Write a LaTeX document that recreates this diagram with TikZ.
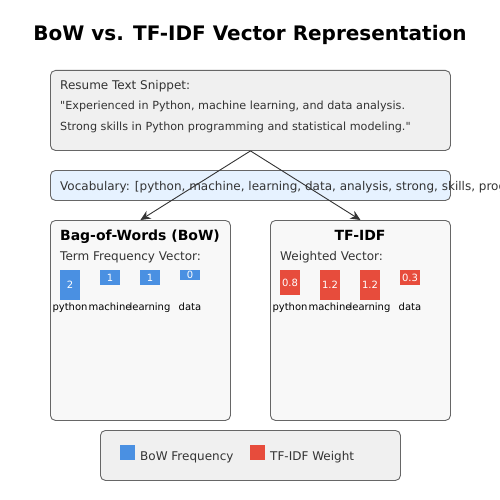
\documentclass[tikz,border=0pt]{standalone}
\usepackage{fontspec}
\setmainfont{DejaVu Sans}[Ligatures=TeXOff]
\usetikzlibrary{arrows.meta}
\definecolor{bowblue}{HTML}{4A90E2}
\definecolor{tfred}{HTML}{E74C3C}
\definecolor{boxgray}{HTML}{F0F0F0}
\definecolor{panelgray}{HTML}{F8F8F8}
\definecolor{vocabblue}{HTML}{E6F2FF}
\definecolor{inkgray}{HTML}{333333}
\begin{document}
\begin{tikzpicture}[x=1pt, y=-1pt,
	panel/.style={draw=black!60, line width=0.9pt, rounded corners=5pt, inner sep=0pt, anchor=north west},
	txt/.style={inner sep=0pt, anchor=base west, text=inkgray, font=\fontsize{12}{14}\selectfont},
	head/.style={inner sep=0pt, anchor=base, font=\fontsize{14}{16}\selectfont\bfseries},
	bar/.style={inner sep=0pt, anchor=north, minimum width=20pt, text=white, font=\fontsize{10}{12}\selectfont},
	word/.style={inner sep=0pt, anchor=base, font=\fontsize{10}{12}\selectfont},
	flow/.style={draw=inkgray, line width=0.9pt, -{Stealth[length=10pt, width=9pt]}}]
	\useasboundingbox (0,0) rectangle (500,500);
	\clip (0,0) rectangle (500,500);

	% Title
	\node[inner sep=0pt, anchor=base, font=\fontsize{20}{24}\selectfont\bfseries] (title) at (250,41) {BoW vs. TF-IDF Vector Representation};

	% Define boxes
	\node[panel, fill=boxgray, minimum width=400pt, minimum height=80pt] (resume) at (50,70) {};
	\node[panel, fill=vocabblue, minimum width=400pt, minimum height=30pt] (vocab) at (50,170) {};
	\node[panel, fill=panelgray, minimum width=180pt, minimum height=200pt] (bow) at (50,220) {};
	\node[panel, fill=panelgray, minimum width=180pt, minimum height=200pt] (tfidf) at (270,220) {};
	\node[panel, fill=boxgray, minimum width=300pt, minimum height=50pt] (legend) at (100,430) {};

	% Texts
	\node[txt] (rtitle) at (60,90) {Resume Text Snippet:};
	\node[txt, font=\fontsize{11.2}{13}\selectfont] (quote1) at (60,110) {"Experienced in Python, machine learning, and data analysis.};
	\node[txt, font=\fontsize{11.2}{13}\selectfont] (quote2) at (60,130) {Strong skills in Python programming and statistical modeling."};
	\node[txt] (vtext) at (60,190) {Vocabulary: [python, machine, learning, data, analysis, strong, skills, programming, statistical, modeling]};

	\node[head] (bowtitle) at (140,240) {Bag-of-Words (BoW)};
	\node[txt] (bowsub) at (60,260) {Term Frequency Vector:};
	\node[head] (tftitle) at (360,240) {TF-IDF};
	\node[txt] (tfsub) at (280,260) {Weighted Vector:};

	% Bars
	\foreach \x/\h/\v/\w/\n in {70/30/2/python/a, 110/15/1/machine/b, 150/15/1/learning/c, 190/10/0/data/d} {
		\node[bar, fill=bowblue, minimum height=\h pt] (bow\n) at (\x,270) {\v};
		\node[word] (boww\n) at (\x,310) {\w};
	}
	\foreach \x/\h/\v/\w/\n in {290/25/0.8/python/a, 330/30/1.2/machine/b, 370/30/1.2/learning/c, 410/15/0.3/data/d} {
		\node[bar, fill=tfred, minimum height=\h pt] (tf\n) at (\x,270) {\v};
		\node[word] (tfw\n) at (\x,310) {\w};
	}

	% Legend
	\node[inner sep=0pt, anchor=north west, fill=bowblue, minimum size=15pt] (keybow) at (120,445) {};
	\node[txt, anchor=base west] (keybowtext) at (140,460) {BoW Frequency};
	\node[inner sep=0pt, anchor=north west, fill=tfred, minimum size=15pt] (keytf) at (250,445) {};
	\node[txt, anchor=base west] (keytftext) at (270,460) {TF-IDF Weight};

	% Arrows
	\draw[flow] (resume.south) -- (bow.north);
	\draw[flow] (resume.south) -- (tfidf.north);
\end{tikzpicture}
\end{document}
